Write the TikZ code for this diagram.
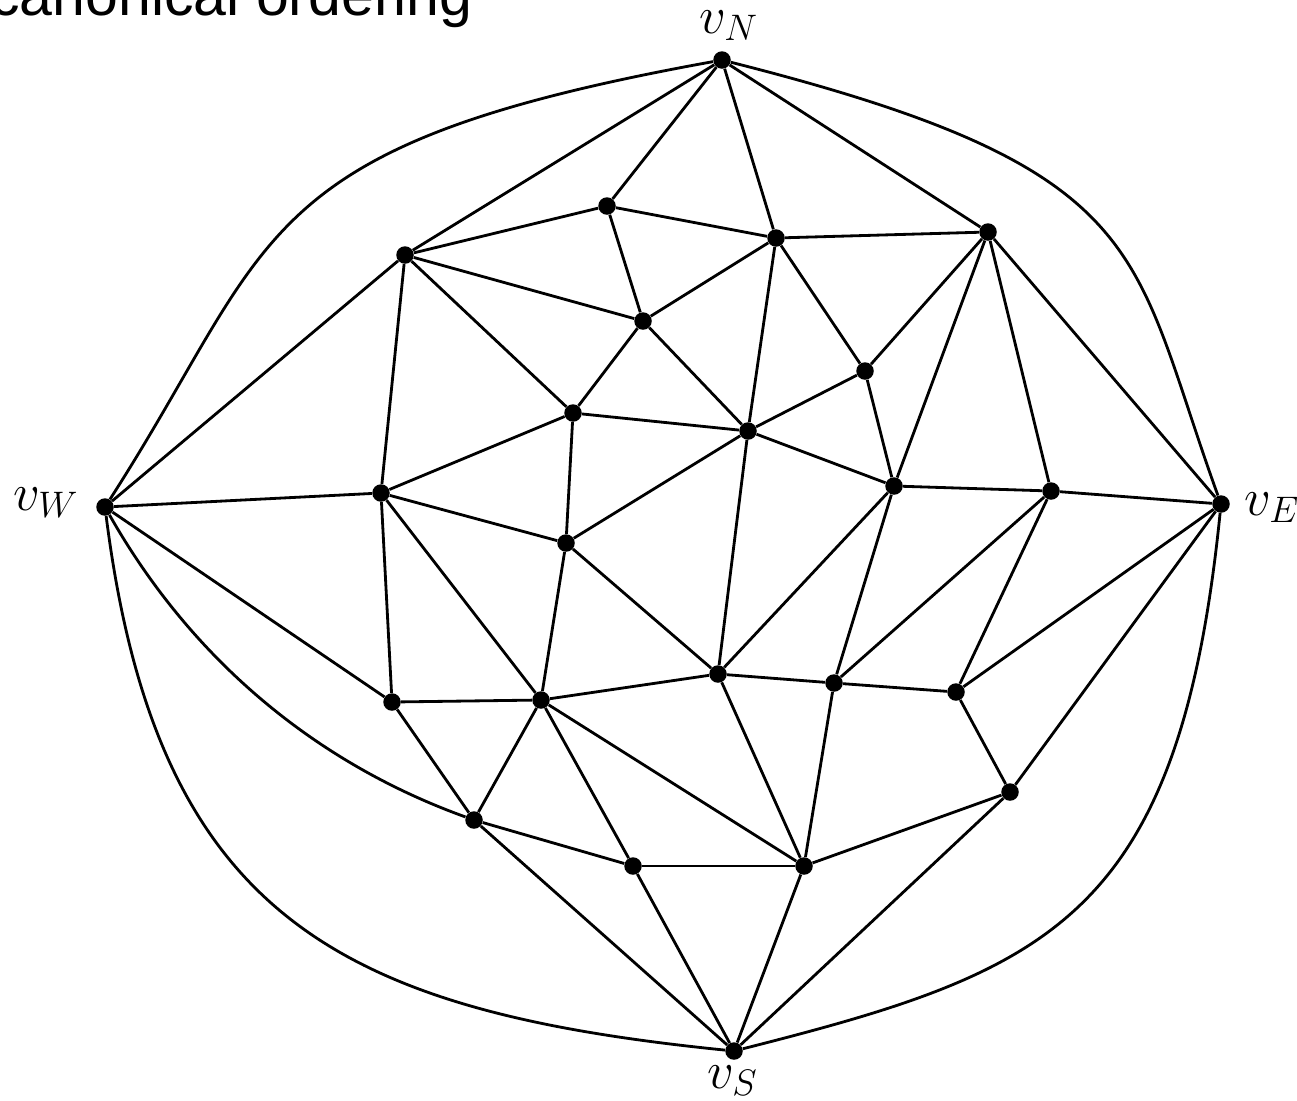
\RequirePackage{fix-cm}
\documentclass[tikz,border=0pt]{standalone}
\usepackage{fontspec}
\newfontfamily\titlefont{Liberation Sans}
\tikzset{
  vtx/.style={circle, fill=black, inner sep=0pt, minimum size=0.35cm},
  edge/.style={line width=1.6pt, black},
  lbl/.style={inner sep=0pt, anchor=base west, font=\fontsize{30}{36}\selectfont}
}
\begin{document}
\begin{tikzpicture}[x=0.02cm, y=-0.02cm]
\useasboundingbox (0,0) rectangle (1297,1100);
\node[inner sep=0pt, anchor=base west, font=\titlefont\fontsize{33.6}{40}\selectfont] (title) at (-10,15) {canonical ordering};
% vertices
\node[vtx] (N) at (722,60) {};
\node[vtx] (W) at (105,507) {};
\node[vtx] (E) at (1221,504) {};
\node[vtx] (S) at (734,1051) {};
\node[vtx] (a) at (607,206) {};
\node[vtx] (b) at (776,238) {};
\node[vtx] (c) at (988,232) {};
\node[vtx] (d) at (405,255) {};
\node[vtx] (e) at (643,321) {};
\node[vtx] (f) at (865,371) {};
\node[vtx] (g) at (573,413) {};
\node[vtx] (h) at (748,431) {};
\node[vtx] (i) at (381,493) {};
\node[vtx] (j) at (894,486) {};
\node[vtx] (k) at (1051,491) {};
\node[vtx] (l) at (566,543) {};
\node[vtx] (m) at (718,674) {};
\node[vtx] (n) at (834,683) {};
\node[vtx] (o) at (956,692) {};
\node[vtx] (p) at (392,702) {};
\node[vtx] (q) at (541,700) {};
\node[vtx] (r) at (1010,792) {};
\node[vtx] (s) at (474,820) {};
\node[vtx] (t) at (633,866) {};
\node[vtx] (u) at (804,866) {};
% labels
\node[lbl] (lN) at (699,33) {$v_N$};
\node[lbl] (lW) at (13,510) {$v_W$};
\node[lbl] (lE) at (1244,515) {$v_E$};
\node[lbl] (lS) at (707,1088) {$v_S$};
% outer curves
\draw[edge] (N) .. controls (246,146) and (278,238) .. (W);
\draw[edge] (N) .. controls (1157,170) and (1129,250) .. (E);
\draw[edge] (W) .. controls (157,917) and (339,1011) .. (S);
\draw[edge] (E) .. controls (1179,920) and (1049,971) .. (S);
\draw[edge] (W) .. controls (190,657) and (313,762) .. (s);
% straight edges
\foreach \x/\y in {N/d, N/a, N/b, N/c,
  d/a, d/e, d/g, d/i, d/W,
  a/b, a/e,
  b/c, b/e, b/h, b/f,
  c/f, c/j, c/k, c/E,
  e/g, e/h,
  f/h, f/j,
  g/h, g/i, g/l,
  h/j, h/l, h/m,
  i/W, i/l, i/p, i/q,
  j/k, j/m, j/n,
  k/E, k/n, k/o,
  l/q, l/m,
  m/q, m/n, m/u,
  n/o, n/u,
  o/E, o/r,
  p/W, p/q, p/s,
  q/s, q/t, q/u,
  r/E, r/u, r/S,
  s/t, s/S,
  t/u, t/S,
  u/S}
  \draw[edge] (\x) -- (\y);
\end{tikzpicture}
\end{document}
